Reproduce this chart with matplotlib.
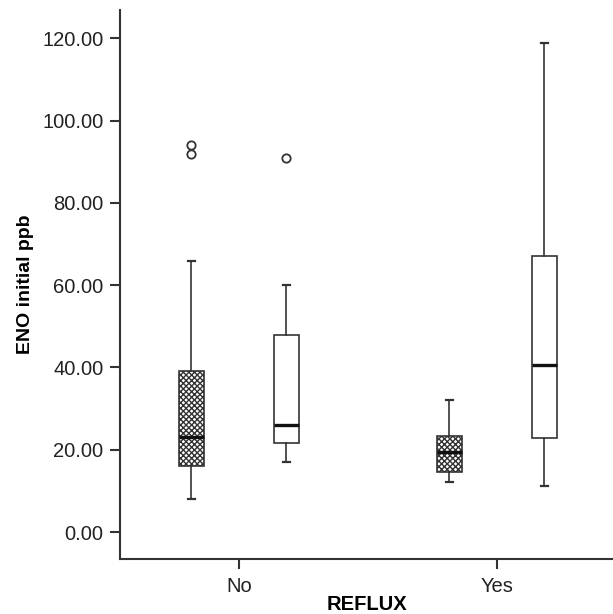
import matplotlib
matplotlib.use("Agg")
import matplotlib.pyplot as plt

plt.rcParams["font.family"] = ["Liberation Sans", "DejaVu Sans"]
plt.rcParams["hatch.linewidth"] = 1.0
plt.rcParams["hatch.color"] = "#2a2a2a"

# data (ENO initial ppb by REFLUX)
groups = ["No", "Yes"]
series = ["hatched", "plain"]
q1 = {"hatched": [16.0, 14.6], "plain": [21.6, 22.8]}
med = {"hatched": [23.1, 19.4], "plain": [26.0, 40.6]}
q3 = {"hatched": [39.1, 23.3], "plain": [47.9, 67.1]}
whis_lo = {"hatched": [8.0, 12.2], "plain": [17.0, 11.2]}
whis_hi = {"hatched": [66.0, 32.1], "plain": [60.0, 118.9]}
outliers = {"hatched": [[94.1, 91.9], []], "plain": [[90.9], []]}

yticks = [0, 20, 40, 60, 80, 100, 120]

fig = plt.figure(figsize=(6.13, 6.14), dpi=100)
ax = fig.add_axes([0.1958, 0.0896, 0.8042, 0.8941])

line_col = "#333333"
offset = 0.184
for k, s in enumerate(series):
    stats = []
    for i in range(len(groups)):
        stats.append(dict(med=med[s][i], q1=q1[s][i], q3=q3[s][i],
                          whislo=whis_lo[s][i], whishi=whis_hi[s][i],
                          fliers=outliers[s][i]))
    pos = [i + (offset if k else -offset) for i in range(len(groups))]
    bp = ax.bxp(stats, positions=pos, widths=0.097, capwidths=0.03,
                patch_artist=True, manage_ticks=False,
                boxprops=dict(linewidth=1.2, edgecolor=line_col),
                whiskerprops=dict(linewidth=1.2, color=line_col),
                capprops=dict(linewidth=1.6, color=line_col),
                medianprops=dict(linewidth=2.4, color="#111111"),
                flierprops=dict(marker="o", markersize=6, markerfacecolor="none",
                                markeredgecolor=line_col, markeredgewidth=1.3))
    for b in bp["boxes"]:
        b.set_facecolor("white")
        if s == "hatched":
            b.set_hatch("xxxxxx")

ax.set_xlim(-0.461, 1.45)
ax.set_ylim(-6.56, 126.9)
ax.set_xticks(range(len(groups)))
ax.set_xticklabels(groups)
ax.set_yticks(yticks)
ax.set_yticklabels([f"{v:.2f}" for v in yticks])

for side in ["top", "right"]:
    ax.spines[side].set_visible(False)
for side in ["left", "bottom"]:
    ax.spines[side].set_linewidth(1.5)
    ax.spines[side].set_color(line_col)
ax.tick_params(axis="both", length=7, width=1.5, color=line_col,
               labelsize=14.5, labelcolor="#222222")
ax.tick_params(axis="y", pad=5)
ax.tick_params(axis="x", pad=6)

ax.set_ylabel("ENO initial ppb", fontsize=14, fontweight="bold", labelpad=6)
ax.set_xlabel("REFLUX", fontsize=14.5, fontweight="bold", labelpad=-1)

fig.savefig("out.png", dpi=100)
